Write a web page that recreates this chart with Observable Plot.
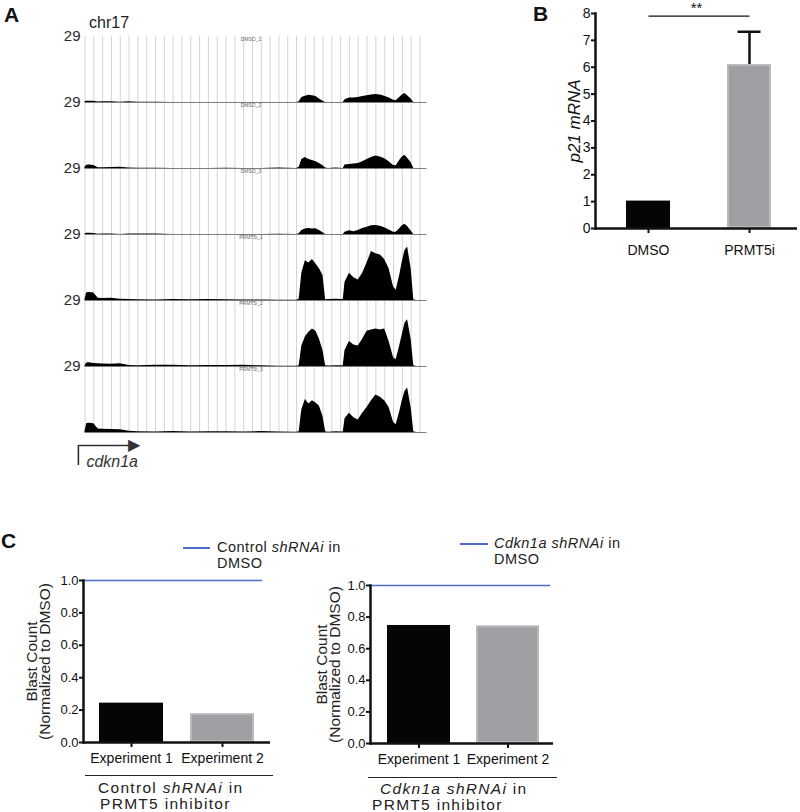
<!DOCTYPE html>
<html><head><meta charset="utf-8">
<script src="https://cdn.jsdelivr.net/npm/d3@7"></script>
<script src="https://cdn.jsdelivr.net/npm/@observablehq/plot@0.6"></script>
<style>
body{margin:0;background:#fff;font-family:"Liberation Sans",Arial,sans-serif;color:#1a1a1a;}
#fig{position:relative;width:800px;height:812px;overflow:hidden;background:#fff;}
#fig > *{position:absolute;}
.plbl{font-weight:bold;font-size:21px;line-height:21px;color:#111;}
.leg{font-size:14.5px;line-height:15.5px;letter-spacing:0.5px;color:#222;white-space:nowrap;}
.legline{height:0;border-top:2px solid #4d6ccf;}
.grp{font-size:15.5px;line-height:16px;letter-spacing:1.3px;color:#222;white-space:nowrap;}
.uline{height:0;border-top:1.6px solid #222;}
</style>
</head><body>
<div id="fig"></div>
<script>
// ---------- DATA ----------
// Panel A: genome browser coverage (x in arbitrary genomic units, y in read coverage, max 29)
const trackNames = ["DMSO_1","DMSO_2","DMSO_3","PRMT5i_1","PRMT5i_2","PRMT5i_3"];
const trackMax = 29;
const positions = [0,0.2,0.5,1,1.5,2, 3,4,5,6, 8,10,12,14,16,18,20,22,24,
  24.3,24.6,25,25.4,25.8,26.2,26.6,27,27.3,27.6, 28.5,29.3,29.5,
  30,30.5,31,31.5,32,32.5,33,33.5,34,34.5,35, 35.3,35.7,36,36.3,36.6,37,37.3,37.6,38.8];
const dmso1 = [0.3,0.6,0.6,0.5,0.2,0.3, 0.3,0.1,0.3,0.1, 0.1,0,0,0,0,0,0,0,0,
  0.3,2.2,2.8,3.2,3.0,2.6,1.5,0.6,0,0, 0,0,1.2,
  2.0,2.0,2.2,2.6,3.0,3.3,3.5,3.3,2.8,2.0,1.0, 0.8,2.2,3.3,4.0,3.0,1.5,0,0,0];
const dmso2 = [0.5,1.4,1.5,1.3,0.3,0.3, 0.4,0.5,0.2,0.1, 0.1,0,0,0,0.1,0,0,0.2,0,
  0.5,4.0,4.8,4.0,3.5,3.0,2.2,1.2,0.2,0, 0.2,0,1.5,
  1.8,2.0,2.2,3.0,4.0,4.8,5.5,5.0,4.3,3.0,1.3, 1.2,3.5,5.0,5.8,4.5,2.5,0,0,0];
const dmso3 = [0.3,0.6,0.6,0.4,0.1,0.2, 0.2,0,0.2,0.2, 0.2,0,0,0,0,0,0,0.1,0,
  0.3,1.8,2.4,2.6,2.4,2.5,1.8,0.8,0,0, 0,0,1.0,
  1.6,1.2,1.8,2.6,3.2,3.8,4.0,3.6,3.0,2.0,1.0, 1.0,2.5,3.8,4.5,3.5,1.5,0,0,0];
const prmt1 = [0.5,3.4,3.5,3.3,1.0,0.9, 1.0,0.6,0.4,0.3, 0.2,0.4,0.3,0.4,0.3,0.2,0.2,0.1,0.1,
  0.5,12,17.5,16.5,18,16,14,11,0.3,0.4, 0.5,0.4,8,
  12,10,9,12,16.5,21.5,20.5,20,18,14,6, 4.5,11,17,22,23.5,14,0.3,0,0];
const prmt2 = [0.3,1.5,1.6,1.3,1.2,1.1, 1.0,1.2,0.4,0.3, 0.6,0.5,0.3,0.4,0.4,0.5,0.3,0.1,0.1,
  0.3,9,13,15,16.5,15.5,12,7,0.3,0.2, 0.3,0.3,7,
  11,9.5,9,12,15.5,16,16.5,16,16.5,11,4, 3,9,14,19,20.5,12,0.3,0,0];
const prmt3 = [0.4,4.0,4.1,3.8,1.5,1.4, 1.3,1.2,0.5,0.3, 0.2,0.4,0.2,0.3,0.3,0.2,0.4,0.2,0.1,
  0.3,10,14.5,12.5,14,13,11.5,7,0.3,0.1, 0.3,0.2,6,
  8.5,6.5,5.5,8.5,11,14,16.5,15.5,14,11,4.5, 3.4,9,14,18,19.5,11,0.3,0,0];
const coverage = [dmso1,dmso2,dmso3,prmt1,prmt2,prmt3];
const gridTicks = d3.range(0,39);
const genes = [{name:"cdkn1a", tss:-0.75, tip:6.0}];

// Panel B: p21 mRNA
const conditions = ["DMSO","PRMT5i"];
const p21Mean = [1.02, 6.1];
const p21Err = [0, 1.22];
const p21Ticks = [0,1,2,3,4,5,6,7,8];
const sigLevel = 7.9;

// Panel C: blast counts
const experiments = ["Experiment 1","Experiment 2"];
const controlBlast = [0.243, 0.178];
const cdknBlast = [0.747, 0.745];
const dmsoRef = 1.0;
const blastTicks = [0,0.2,0.4,0.6,0.8,1.0];

// ---------- HELPERS ----------
const fig = document.getElementById("fig");
const FONT = '"Liberation Sans", Arial, sans-serif';
function put(node, left, top){ node.style.left = left+"px"; node.style.top = top+"px"; fig.appendChild(node); return node; }
function div(cls, html){ const d = document.createElement("div"); d.className = cls; d.innerHTML = html; return d; }
const BLACK = "#050505", GRAY = "#9e9fa3", GRAYEDGE = "#b9b9bc", BLUE = "#4d6ccf";

// ---------- PANEL A ----------
const covData = trackNames.flatMap((t,i) => positions.map((p,j) => ({track:t, pos:p, value:coverage[i][j]})));
const plotA = Plot.plot({
  width:440, height:445,
  marginLeft:84.5, marginRight:13.5, marginTop:35.5, marginBottom:13.5,
  style:{fontFamily:FONT, background:"transparent", overflow:"visible"},
  x:{domain:[0,38.8], axis:null},
  y:{domain:[0,trackMax]},
  fy:{domain:trackNames, padding:0, axis:null},
  marks:[
    Plot.gridX(gridTicks, {stroke:"#d0d3de", strokeOpacity:1, strokeWidth:1}),
    Plot.areaY(covData, {x:"pos", y:"value", fy:"track", fill:"#000", curve:"linear"}),
    Plot.ruleY([0], {stroke:"#7d7d7d", strokeWidth:1.2}),
    Plot.axisY([trackMax], {tickSize:0, tickPadding:4.5, fontSize:15, color:"#2a2a2a", label:null}),
    Plot.text(trackNames, {fy:d=>d, text:d=>d, frameAnchor:"top", dy:1, dx:-5, fontSize:5, fill:"#666"})
  ]
});
put(plotA, 0, 0);

const plotGene = Plot.plot({
  width:440, height:45,
  marginLeft:84.5, marginRight:13.5, marginTop:15, marginBottom:10,
  style:{fontFamily:FONT, background:"transparent", overflow:"visible"},
  x:{domain:[0,38.8], axis:null},
  y:{domain:[0,1], axis:null},
  marks:[
    Plot.ruleX(genes, {x:"tss", y1:()=>0, y2:()=>1, stroke:"#333", strokeWidth:1.6}),
    Plot.link(genes, {x1:"tss", x2:"tip", y1:()=>1, y2:()=>1, stroke:"#333", strokeWidth:1.6}),
    Plot.text(genes, {x:"tip", y:()=>1, text:()=>"▶", textAnchor:"end", fontSize:16, fill:"#333", dx:2, dy:-1}),
    Plot.text(genes, {x:"tss", y:()=>0, text:"name", textAnchor:"start", dx:8, dy:-4, fontSize:16, fontStyle:"italic", fill:"#333"})
  ]
});
put(plotGene, 0, 430);

put(div("plbl","A"), 4, 4);
const chr = div("", "chr17"); chr.style.fontSize="16px"; chr.style.lineHeight="16px"; chr.style.color="#222";
put(chr, 89, 14.5);

// ---------- PANEL B ----------
const bData = conditions.map((c,i) => ({cond:c, mean:p21Mean[i], err:p21Err[i]}));
const sig = [{a:conditions[0], b:conditions[1], y:sigLevel, label:"**"}];
const plotB = Plot.plot({
  width:280, height:270,
  marginLeft:75, marginRight:3, marginTop:13, marginBottom:42,
  style:{fontFamily:FONT, background:"transparent", overflow:"visible", color:"#111"},
  x:{type:"band", domain:conditions, paddingInner:0.564, paddingOuter:0.282, align:0.54},
  y:{domain:[0,8]},
  marks:[
    Plot.barY(bData, {filter:d=>d.cond===conditions[0], x:"cond", y:"mean", fill:BLACK}),
    Plot.barY(bData, {filter:d=>d.cond===conditions[1], x:"cond", y:"mean", fill:GRAY, stroke:GRAYEDGE, strokeWidth:2, inset:1}),
    Plot.ruleX(bData, {filter:d=>d.err>0, x:"cond", y1:"mean", y2:d=>d.mean+d.err, strokeWidth:2.5, stroke:"#111"}),
    Plot.tickY(bData, {filter:d=>d.err>0, x:"cond", y:d=>d.mean+d.err, strokeWidth:2.5, stroke:"#111", insetLeft:10.5, insetRight:10.5}),
    Plot.link(sig, {x1:"a", x2:"b", y1:"y", y2:"y", stroke:"#111", strokeWidth:1.3}),
    Plot.text(sig, {frameAnchor:"top", text:"label", dy:-11, fontSize:15, fill:"#111"}),
    Plot.ruleY([0], {strokeWidth:2.5, stroke:"#111"}),
    Plot.frame({anchor:"left", strokeWidth:2.5, stroke:"#111"}),
    Plot.axisY(p21Ticks, {tickSize:4, tickPadding:1, strokeWidth:2, fontSize:14, tickFormat:d3.format("d"), label:null}),
    Plot.axisX({tickSize:5, tickPadding:12, strokeWidth:2, fontSize:14, label:null}),
    Plot.text(["p21 mRNA"], {frameAnchor:"left", rotate:-90, dx:-21, text:d=>d, textAnchor:"middle", lineAnchor:"middle", fontSize:17, fontStyle:"italic", fill:"#111"})
  ]
});
put(plotB, 520, 0);
put(div("plbl","B"), 533, 3);

// ---------- PANEL C ----------
function blastPlot(values, o){
  const data = experiments.map((e,i) => ({exp:e, v:values[i]}));
  return Plot.plot({
    width:o.width, height:240,
    marginLeft:o.ml, marginRight:o.mr, marginTop:o.mt, marginBottom:o.mb,
    style:{fontFamily:FONT, background:"transparent", overflow:"visible", color:"#111"},
    x:{type:"band", domain:experiments, paddingInner:o.pi, paddingOuter:o.po, align:o.align},
    y:{domain:[0,1]},
    marks:[
      Plot.barY(data, {filter:d=>d.exp===experiments[0], x:"exp", y:"v", fill:BLACK}),
      Plot.barY(data, {filter:d=>d.exp===experiments[1], x:"exp", y:"v", fill:GRAY, stroke:GRAYEDGE, strokeWidth:2, inset:1}),
      Plot.ruleY([dmsoRef], {stroke:BLUE, strokeWidth:1.6, insetRight:o.blueInset}),
      Plot.ruleY([0], {strokeWidth:2.5, stroke:"#111"}),
      Plot.frame({anchor:"left", strokeWidth:2.5, stroke:"#111"}),
      Plot.axisY(blastTicks, {tickSize:4, tickPadding:1, strokeWidth:2, fontSize:13, tickFormat:d3.format(".1f"), label:null}),
      Plot.axisX({tickSize:5, tickPadding:6, strokeWidth:2, fontSize:14, label:null}),
      Plot.text(["Blast Count\n(Normalized to DMSO)"], {frameAnchor:"left", rotate:-90, dx:o.labelDx, text:d=>d, textAnchor:"middle", lineAnchor:"middle", lineHeight:0.85, fontSize:15.5, fill:"#222"})
    ]
  });
}
put(blastPlot(controlBlast, {width:280, ml:83, mr:10, mt:40, mb:38, pi:0.293, po:0.163, align:0.5, blueInset:8, labelDx:-44}), 0, 540);
put(blastPlot(cdknBlast, {width:273, ml:80, mr:10, mt:45, mb:37, pi:0.292, po:0.174, align:0.55, blueInset:3, labelDx:-41.5}), 290, 540);

put(div("plbl","C"), 1, 529.5);
// legends
put(div("legline",""), 183, 547).style.width = "27px";
put(div("leg","Control <i>shRNAi</i> in<br>DMSO"), 217, 540);
put(div("legline",""), 460, 543).style.width = "28px";
put(div("leg","<i>Cdkn1a shRNAi</i> in<br>DMSO"), 494, 536);
// group labels
put(div("uline",""), 85, 775).style.width = "188px";
put(div("grp","Control <i>shRNAi</i> in"), 98, 780);
put(div("grp","PRMT5 inhibitor"), 100, 796);
put(div("uline",""), 368, 777).style.width = "189px";
put(div("grp","<i>Cdkn1a shRNAi</i> in"), 380, 781);
put(div("grp","PRMT5 inhibitor"), 372, 797);
</script>
</body></html>
